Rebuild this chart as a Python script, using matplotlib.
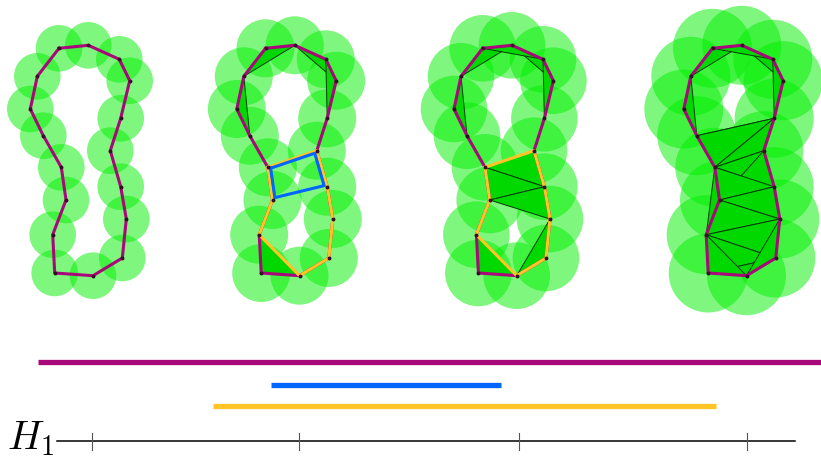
import matplotlib
matplotlib.use("Agg")
from matplotlib import pyplot as plt
from matplotlib.patches import Circle, Polygon

plt.rcParams['mathtext.fontset'] = 'cm'

# point cloud (pixel coords of the first panel), numbered 1..17 around the loop
px = [59.0, 88.3, 119.3, 129.7, 120.7, 110.3, 120.7, 126.3, 122.3, 93.0, 54.7, 52.7, 66.0, 61.3, 43.3, 30.3, 37.3]
py = [49.3, 46.3, 60.3, 81.7, 119.3, 151.7, 187.7, 220.0, 259.0, 276.7, 274.0, 235.7, 201.0, 168.3, 136.7, 110.0, 77.3]

# one panel per filtration step
shifts = [0, 206.5, 423.7, 653.5]
radii = [23.3, 29.0, 33.3, 39.5]

top_tris = [(17, 1, 2), (2, 3, 4), (3, 4, 5), (16, 17, 15)]
tris_2 = top_tris + [(12, 11, 10)]
tris_3 = top_tris + [(1, 2, 3), (14, 6, 7), (14, 13, 7), (13, 7, 8), (8, 9, 10), (12, 11, 10)]
tris_4 = top_tris + [(1, 2, 3), (15, 5, 6), (14, 15, 5), (14, 5, 6), (14, 6, 7), (13, 6, 7),
                     (13, 14, 7), (13, 7, 8), (12, 13, 8), (12, 8, 9), (12, 9, 11), (11, 9, 10),
                     (8, 9, 10), (12, 13, 14), (12, 11, 10)]
triangles = [[], tris_2, tris_3, tris_4]

orange_loop = [14, 6, 7, 8, 9, 10, 12, 13]
blue_loop = [14, 6, 7, 13]
show_orange = [False, True, True, False]
show_blue = [False, True, False, False]

# barcode for H1 (birth, death in the same pixel scale)
bar_start = [38, 271, 213]
bar_end = [821, 501, 716]
bar_y = [363, 386, 407]
bar_colors = ['#a8087a', '#0066ff', '#ffc527']
tick_x = [92, 299, 519, 747]

purple = '#a8087a'
fig = plt.figure(figsize=(8.21, 4.6), dpi=100)
ax = fig.add_axes([0, 0, 1, 1])
ax.set_xlim(0, 821)
ax.set_ylim(460, 0)
ax.axis('off')


def pt(i, dx):
    return px[i - 1] + dx, py[i - 1]


for k, dx in enumerate(shifts):
    for i in range(len(px)):
        ax.add_patch(Circle((px[i] + dx, py[i]), radii[k], color='#00f000', alpha=0.5, lw=0, zorder=1))
    for t in triangles[k]:
        ax.add_patch(Polygon([pt(i, dx) for i in t], closed=True, facecolor='#00d800',
                             edgecolor='#0a3a0a', lw=0.7, zorder=2))
    loop = list(range(1, 18)) + [1]
    ax.plot([pt(i, dx)[0] for i in loop], [pt(i, dx)[1] for i in loop], color=purple, lw=2.2, zorder=3,
            solid_joinstyle='round')
    if show_orange[k]:
        ol = orange_loop + [orange_loop[0]]
        ax.plot([pt(i, dx)[0] for i in ol], [pt(i, dx)[1] for i in ol], color='#ffc527', lw=2.2, zorder=4,
                solid_joinstyle='round')
    if show_blue[k]:
        cx = sum(pt(i, dx)[0] for i in blue_loop) / 4
        cy = sum(pt(i, dx)[1] for i in blue_loop) / 4
        bl = blue_loop + [blue_loop[0]]
        ax.plot([cx + 0.9 * (pt(i, dx)[0] - cx) for i in bl], [cy + 0.9 * (pt(i, dx)[1] - cy) for i in bl],
                color='#0066ff', lw=2.2, zorder=5)
    ax.plot([x + dx for x in px], py, 'o', color='#3a0a2a', ms=1.8, zorder=6)

# barcode
for s, e, y, c in zip(bar_start, bar_end, bar_y, bar_colors):
    ax.plot([s, e], [y, y], color=c, lw=3.8, solid_capstyle='butt')
ax.plot([57, 795], [442, 442], color='black', lw=1.1)
for x in tick_x:
    ax.plot([x, x], [434, 451], color='#555555', lw=0.8)
ax.text(7, 449, r'$H_1$', fontsize=29, ha='left', va='baseline')

plt.savefig("out.png", dpi=100)
plt.close()
